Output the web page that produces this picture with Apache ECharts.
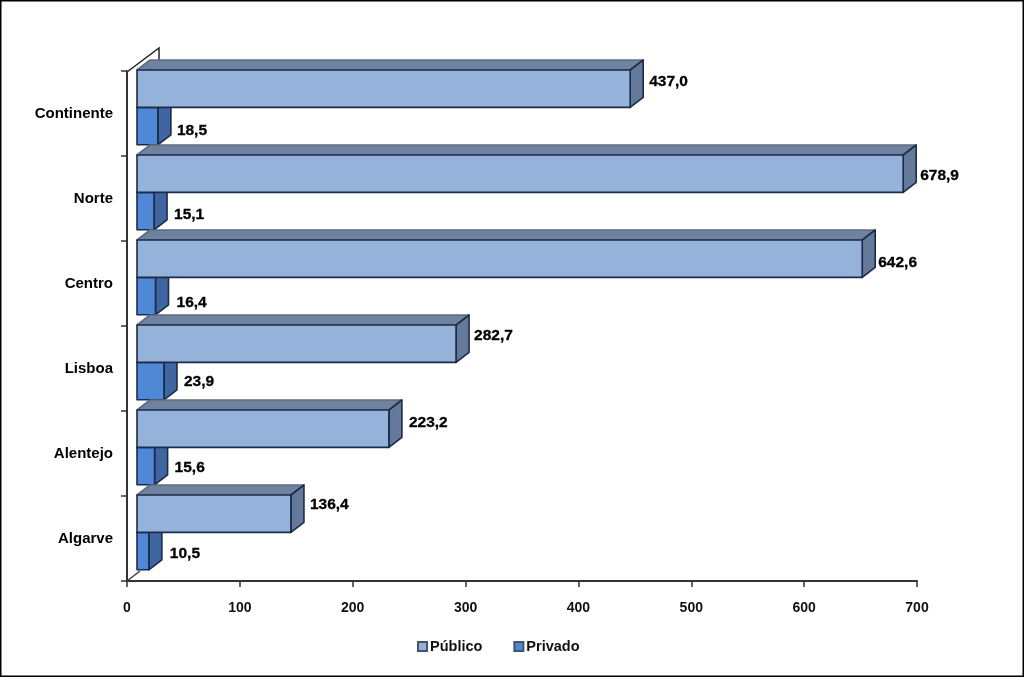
<!DOCTYPE html>
<html>
<head>
<meta charset="utf-8">
<style>html,body{margin:0;padding:0;background:#fff}#c{width:1024px;height:677px}</style>
<script src="https://cdn.jsdelivr.net/npm/echarts@6/dist/echarts.min.js"></script>
</head>
<body>
<div id="c"></div>
<script>
const categories = ['Continente','Norte','Centro','Lisboa','Alentejo','Algarve'];
const publico = [437.0,678.9,642.6,282.7,223.2,136.4];
const privado = [18.5,15.1,16.4,23.9,15.6,10.5];
const xTicks = {min:0,max:700,interval:100};
// hand-placed data label offsets in the original chart (px: dx, dy)
const nudgePublico = [[6,-7],[4,2],[3,4],[5,-8],[7,-5.5],[6,-8.5]];
const nudgePrivado = [[6,4.5],[7,3.5],[8,6.5],[7,0.5],[7,1.5],[8,2.5]];

const FAMILY = '"Liberation Sans", Arial, sans-serif';
const FONT = 'bold 15.5px ' + FAMILY;
const FLOOR = 10, DX = 13, DY = -10, BAR = 0.44;
const DARK = '#1b2b49';

function bar3d(opts){
  return function(params, api){
    const i = params.dataIndex;
    const end = api.coord([api.value(0), i]);
    const zero = api.coord([0, i]);
    const band = api.size([0,1])[1];
    const h = band * BAR;
    const x0 = zero[0] + FLOOR, x1 = end[0] + FLOOR;
    const y0 = zero[1] - band/2 - 1 + opts.slot * h, y1 = y0 + h;
    const st = {stroke:DARK, lineWidth:1.6, lineJoin:'round'};
    const n = opts.nudge[i];
    return {type:'group', children:[
      {type:'polygon', shape:{points:[[x0,y0],[x0+DX,y0+DY],[x1+DX,y0+DY],[x1,y0]]},
       style:Object.assign({fill:opts.top},st,{stroke:'#5f6b80'})},
      {type:'polygon', shape:{points:[[x1,y0],[x1+DX,y0+DY],[x1+DX,y1+DY],[x1,y1]]},
       style:Object.assign({fill:opts.side},st)},
      {type:'rect', shape:{x:x0,y:y0,width:x1-x0,height:h},
       style:Object.assign({fill:opts.front},st)},
      {type:'text', style:{x:x1+DX+n[0], y:(y0+y1)/2+n[1],
        text:api.value(0).toFixed(1).replace('.',','),
        font:FONT, fill:'#000', stroke:'#000', lineWidth:0.3,
        textAlign:'left', textVerticalAlign:'middle'}}
    ]};
  };
}

const chart = echarts.init(document.getElementById('c'), null, {renderer:'canvas'});
chart.setOption({
  animation:false,
  backgroundColor:'#fff',
  grid:{left:127,right:107,top:71,bottom:96,containLabel:false},
  legend:{
    data:['Público','Privado'], left:412, top:634, itemWidth:9, itemHeight:9, itemGap:31,
    icon:'rect', selectedMode:false,
    textStyle:{fontFamily:FAMILY, fontSize:14.5, fontWeight:'bold', color:'#111', padding:[0,0,0,-2]}
  },
  xAxis:{type:'value', min:xTicks.min, max:xTicks.max, interval:xTicks.interval,
    splitLine:{show:false},
    axisLine:{show:true,lineStyle:{color:'#333',width:2}},
    axisTick:{show:true,length:6,lineStyle:{color:'#333',width:1.5}},
    axisLabel:{margin:20,color:'#111',fontFamily:FAMILY,fontSize:14,fontWeight:'bold'}},
  yAxis:{type:'category', data:categories, inverse:true,
    axisLine:{show:true,lineStyle:{color:'#333',width:2}},
    axisTick:{show:true,length:6,alignWithLabel:false,lineStyle:{color:'#333',width:1.5}},
    axisLabel:{margin:14,color:'#000',fontFamily:FAMILY,fontSize:15,fontWeight:'bold',padding:[8,0,0,0]}},
  graphic:[
    {type:'rect',z:100,silent:true,shape:{x:0.5,y:0.5,width:1023,height:676},style:{fill:'none',stroke:'#000',lineWidth:2}},
    {type:'polyline',z:0,silent:true,shape:{points:[[127,72],[159,48],[159,60]]},style:{fill:'none',stroke:'#222',lineWidth:1.5}},
    {type:'line',z:0,silent:true,shape:{x1:127,y1:581,x2:140,y2:571},style:{stroke:'#333',lineWidth:1.2}}
  ],
  series:[
    {name:'Público',type:'custom',z:3,coordinateSystem:'cartesian2d',
     data:publico.map((v,i)=>[v,categories[i]]),encode:{x:0,y:1},
     itemStyle:{color:'#94B1DA',borderColor:'#44546a',borderWidth:1},
     renderItem:bar3d({slot:0,front:'#95B2DB',top:'#6F83A1',side:'#65799A',nudge:nudgePublico})},
    {name:'Privado',type:'custom',z:2,coordinateSystem:'cartesian2d',
     data:privado.map((v,i)=>[v,categories[i]]),encode:{x:0,y:1},
     itemStyle:{color:'#5087D6',borderColor:'#44546a',borderWidth:1},
     renderItem:bar3d({slot:1,front:'#5088D8',top:'#3F66A0',side:'#3F66A0',nudge:nudgePrivado})}
  ]
});
</script>
</body>
</html>
